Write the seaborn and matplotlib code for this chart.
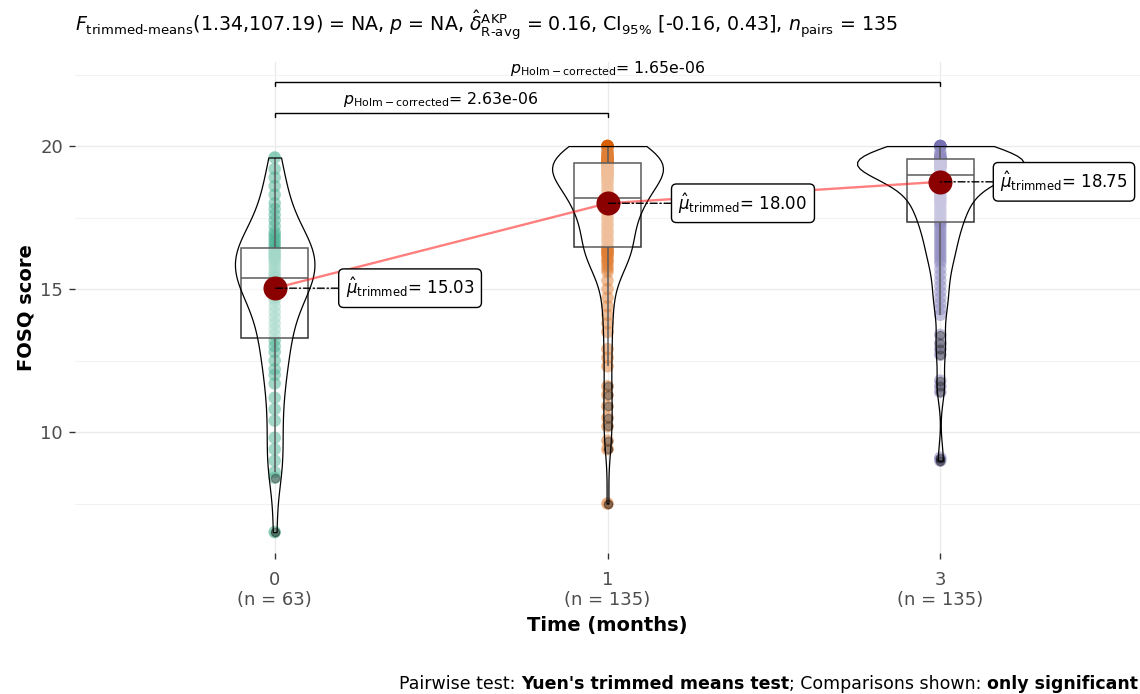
import numpy as np
import pandas as pd
import matplotlib
matplotlib.use("Agg")
import matplotlib.pyplot as plt
import seaborn as sns

# ---- data -------------------------------------------------------------
time_levels = ["0", "1", "3"]
n_labels = ["(n = 63)", "(n = 135)", "(n = 135)"]

fosq_month0 = [
    6.5, 8.4, 8.6, 9.0, 9.4, 9.8, 10.4, 10.8, 11.2, 11.7, 12.0, 12.2, 12.5, 12.8, 13.0, 13.2,
    13.4, 13.6, 13.8, 14.0, 14.2, 14.4, 14.6, 14.7, 14.8, 14.9, 15.0, 15.1, 15.2, 15.25, 15.3,
    15.38, 15.45, 15.5, 15.6, 15.7, 15.8, 15.9, 16.0, 16.05, 16.1, 16.15, 16.2, 16.25, 16.3,
    16.35, 16.4,
    16.5, 16.6, 16.7, 16.8, 16.9, 17.0, 17.2, 17.4, 17.6, 17.8, 18.0, 18.3, 18.6, 18.9, 19.2, 19.6,
]

fosq_month1 = [
    7.5, 9.4, 9.7, 10.2, 10.5, 10.9, 11.3, 11.6, 12.3, 12.6, 12.9, 13.5, 13.8, 14.1, 14.4, 14.7,
    15.0, 15.3, 15.6, 15.7, 15.8, 15.9, 16.0, 16.0, 16.1, 16.2, 16.2, 16.25, 16.3, 16.3, 16.35,
    16.4, 16.4, 16.45,
    16.5, 16.6, 16.7, 16.75, 16.8, 16.9, 17.0, 17.0, 17.1, 17.2, 17.25, 17.3, 17.4, 17.5, 17.5,
    17.6, 17.7, 17.75, 17.8, 17.9, 17.9, 18.0, 18.0, 18.0, 18.05, 18.1, 18.1, 18.1, 18.15, 18.15,
    18.2, 18.2, 18.2,
    18.2,
    18.25, 18.3, 18.4, 18.5, 18.5, 18.6, 18.7, 18.75, 18.8, 18.85, 18.9, 18.9, 19.0, 19.0, 19.0,
    19.05, 19.1, 19.1, 19.1, 19.15, 19.2, 19.2, 19.2, 19.25, 19.25, 19.3, 19.3, 19.3, 19.35,
    19.35, 19.4, 19.4, 19.4,
    19.4, 19.4, 19.4, 19.4, 19.45, 19.45, 19.45, 19.45, 19.5, 19.5, 19.5, 19.5, 19.5, 19.5,
    19.55, 19.55, 19.55, 19.6, 19.6, 19.6, 19.6, 19.7, 19.7, 19.7, 19.8, 19.8, 19.9,
    20.0, 20.0, 20.0, 20.0, 20.0, 20.0, 20.0,
]

fosq_month3 = [
    9.0, 9.1, 11.4, 11.6, 11.8, 12.7, 12.9, 13.1, 13.4,
    14.1, 14.3, 14.5, 14.7, 14.9, 15.1, 15.3, 15.5, 15.7, 15.9, 16.0, 16.1, 16.2, 16.3, 16.4,
    16.5, 16.6, 16.7, 16.8, 16.9, 17.0, 17.1, 17.2, 17.3, 17.3,
    17.4, 17.4, 17.5, 17.6, 17.6, 17.7, 17.8, 17.8, 17.9, 18.0, 18.0, 18.1, 18.1, 18.2, 18.2,
    18.3, 18.3, 18.4, 18.4, 18.5, 18.5, 18.5, 18.6, 18.6, 18.7, 18.7, 18.75, 18.8, 18.8, 18.9,
    18.9, 18.95, 19.0,
    19.0,
    19.0, 19.1, 19.2, 19.2, 19.25, 19.3, 19.3, 19.3, 19.3, 19.3, 19.35, 19.35, 19.35, 19.35,
    19.35, 19.4, 19.4, 19.4, 19.4, 19.4, 19.4, 19.4, 19.45, 19.45, 19.45, 19.45, 19.45, 19.45,
    19.5, 19.5, 19.5, 19.5, 19.55,
    19.55, 19.55, 19.55, 19.55, 19.55, 19.55, 19.55, 19.55, 19.55, 19.55, 19.55, 19.55, 19.55,
    19.55, 19.55, 19.55, 19.55, 19.55, 19.55, 19.55, 19.55, 19.55, 19.6, 19.6, 19.6, 19.7,
    19.7, 19.8, 20.0, 20.0, 20.0, 20.0, 20.0, 20.0,
]

trimmed_means = [15.03, 18.00, 18.75]
point_colors = ["#1B9E77", "#D95F02", "#7570B3"]

pair_groups = [(0, 1), (0, 2)]
pair_pvalues = ["2.63e-06", "1.65e-06"]
bracket_levels = [21.17, 22.24]

df = pd.DataFrame({
    "time": (["0"] * len(fosq_month0) + ["1"] * len(fosq_month1) + ["3"] * len(fosq_month3)),
    "score": fosq_month0 + fosq_month1 + fosq_month3,
})

# ---- style ------------------------------------------------------------
sns.set_theme(style="white")
plt.rcParams["font.family"] = ["DejaVu Sans"]
plt.rcParams["mathtext.fontset"] = "dejavusans"
plt.rcParams["text.color"] = "black"

W, H = 1140, 694
fig = plt.figure(figsize=(W / 100, H / 100), dpi=100)
ax = fig.add_axes([75 / W, (H - 553) / H, 1065 / W, (553 - 62) / H])


def nrd0(kde):
    x = np.asarray(kde.dataset).ravel()
    sd = np.std(x, ddof=1)
    iqr = np.subtract(*np.percentile(x, [75, 25]))
    bw = 0.9 * min(sd, iqr / 1.34) * len(x) ** (-0.2)
    return bw / sd


def added(before):
    return [a for a in ax.get_children() if a not in before]


# raw observations
before = list(ax.get_children())
sns.stripplot(data=df, x="time", y="score", order=time_levels, hue="time",
              hue_order=time_levels, palette=point_colors, jitter=False, size=9,
              alpha=0.5, linewidth=0, legend=False, ax=ax)
for a in added(before):
    a.set_zorder(2)

# box plots
before = list(ax.get_children())
sns.boxplot(data=df, x="time", y="score", order=time_levels, width=0.2, color="white",
            linecolor="#333333", linewidth=1.1, showcaps=False, whis=1.5,
            flierprops=dict(marker="o", markersize=6, markerfacecolor="black",
                            markeredgecolor="black", alpha=0.4),
            ax=ax)
for a in added(before):
    a.set_zorder(3)
    if isinstance(a, matplotlib.patches.PathPatch):
        a.set_facecolor((1, 1, 1, 0.5))

# violins
before = list(ax.get_children())
sns.violinplot(data=df, x="time", y="score", order=time_levels, width=0.5, cut=0,
               density_norm="area", inner=None, color="white", linecolor="black",
               linewidth=0.9, bw_method=nrd0, ax=ax)
for a in added(before):
    a.set_zorder(4)
    if isinstance(a, matplotlib.collections.PolyCollection):
        a.set_facecolor((1, 1, 1, 0.2))
        a.set_edgecolor("black")

# trimmed means
xpos = np.arange(len(time_levels))
ax.plot(xpos, trimmed_means, color="red", alpha=0.5, lw=1.7, zorder=5)
ax.scatter(xpos, trimmed_means, s=300, color="#8B0000", linewidths=0, zorder=6)

label_offsets = [(71, 0), (71, 0), (60, 0)]
for i, (m, off) in enumerate(zip(trimmed_means, label_offsets)):
    ax.annotate(rf"$\hat{{\mu}}_{{\mathrm{{trimmed}}}}$= {m:.2f}", xy=(i, m), xytext=off,
                textcoords="offset pixels", ha="left", va="center", fontsize=12,
                color="black",
                bbox=dict(boxstyle="round,pad=0.42,rounding_size=0.3", fc="white",
                          ec="black", lw=1),
                arrowprops=dict(arrowstyle="-", color="black", lw=1,
                                linestyle=(0, (5, 2, 1, 2)), shrinkA=0, shrinkB=0),
                zorder=7)

# pairwise comparison brackets
tick_drop = 0.14
for (a, b), pval, lev in zip(pair_groups, pair_pvalues, bracket_levels):
    ax.plot([a, a, b, b], [lev - tick_drop, lev, lev, lev - tick_drop], color="black",
            lw=1, zorder=5, solid_joinstyle="miter")
    ax.text((a + b) / 2, lev + 0.3, rf"$p_{{\mathrm{{Holm-corrected}}}}$= {pval}",
            ha="center", va="baseline", fontsize=11.3, color="black")

# axes
ax.set_xlim(-0.6, 2.6)
ax.set_ylim(5.77, 22.94)
ax.set_yticks([10, 15, 20])
ax.set_yticks([7.5, 12.5, 17.5, 22.5], minor=True)
ax.set_xticks(xpos)
ax.set_xticklabels([f"{t}\n{n}" for t, n in zip(time_levels, n_labels)])
for lbl in ax.get_xticklabels():
    lbl.set_linespacing(1.2)
ax.grid(which="major", color="#EBEBEB", lw=1.0)
ax.grid(which="minor", axis="y", color="#F2F2F2", lw=0.8)
ax.set_axisbelow(True)
for s in ax.spines.values():
    s.set_visible(False)
ax.tick_params(axis="both", which="major", length=4.3, width=1, color="#333333",
               labelcolor="#4D4D4D", labelsize=13, bottom=True, left=True)
ax.tick_params(axis="x", which="major", pad=8.4)
ax.tick_params(axis="y", which="major", pad=4.3)
ax.tick_params(axis="y", which="minor", length=0)

ax.set_xlabel("Time (months)", fontsize=14, fontweight="bold", color="black")
ax.set_ylabel("FOSQ score", fontsize=14, fontweight="bold", color="black")
ax.xaxis.set_label_coords(0.5, -0.128)
ax.yaxis.set_label_coords(-0.037, 0.5)

# statistical summary
title = (r"$F_{\mathrm{trimmed‐means}}$(1.34,107.19) = NA, $p$ = NA, "
         r"$\hat{\delta}_{\mathrm{R‐avg}}^{\mathrm{AKP}}$ = 0.16, CI$_{95\%}$ [-0.16, 0.43], "
         r"$n_{\mathrm{pairs}}$ = 135")
fig.text(75 / W, 1 - 32 / H, title, fontsize=13.7, ha="left", va="baseline", color="black")

# caption with bold segments
pieces = [("Pairwise test: ", "normal"), ("Yuen's trimmed means test", "bold"),
          ("; Comparisons shown: ", "normal"), ("only significant", "bold")]
renderer = fig.canvas.get_renderer()
cap_size = 12.5


def text_width(s, weight):
    t = fig.text(0, 0, s, fontsize=cap_size, fontweight=weight)
    w = t.get_window_extent(renderer).width
    t.remove()
    return w


space_w = text_width("a a", "normal") - text_width("aa", "normal")
widths = []
for s, wt in pieces:
    core = s.rstrip()
    widths.append(text_width(core, wt) + space_w * (len(s) - len(core)))
x = 1138 - sum(widths)
for (s, wt), w in zip(pieces, widths):
    fig.text(x / W, 1 - 689 / H, s.rstrip(), fontsize=cap_size, fontweight=wt, ha="left",
             va="baseline", color="black")
    x += w

fig.savefig("out.png", dpi=100)
